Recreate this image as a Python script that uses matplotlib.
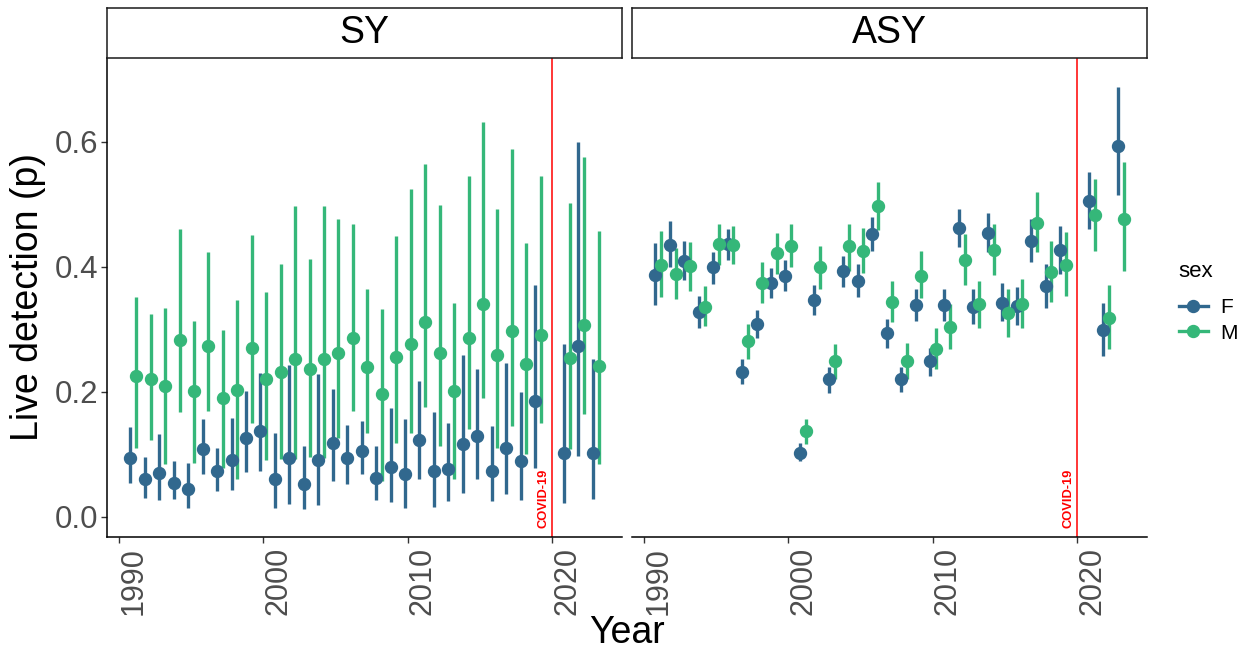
import numpy as np
import matplotlib
matplotlib.use('Agg')
import matplotlib.pyplot as plt
from matplotlib.lines import Line2D

plt.rcParams['font.family'] = ['Liberation Sans', 'DejaVu Sans']

years = [1991, 1992, 1993, 1994, 1995, 1996, 1997, 1998, 1999, 2000,
         2001, 2002, 2003, 2004, 2005, 2006, 2007, 2008, 2009, 2010,
         2011, 2012, 2013, 2014, 2015, 2016, 2017, 2018, 2019,
         2021, 2022, 2023]

# SY - females
sy_f = [0.094, 0.060, 0.071, 0.055, 0.044, 0.108, 0.073, 0.091, 0.127, 0.138,
        0.061, 0.094, 0.053, 0.091, 0.118, 0.094, 0.106, 0.063, 0.080, 0.069,
        0.123, 0.073, 0.076, 0.116, 0.129, 0.073, 0.111, 0.090, 0.186,
        0.102, 0.274, 0.103]
sy_f_lo = [0.054, 0.031, 0.027, 0.028, 0.014, 0.069, 0.041, 0.043, 0.072, 0.073,
           0.014, 0.020, 0.012, 0.019, 0.058, 0.053, 0.068, 0.027, 0.024, 0.015,
           0.060, 0.016, 0.026, 0.039, 0.060, 0.026, 0.037, 0.027, 0.078,
           0.022, 0.097, 0.028]
sy_f_hi = [0.144, 0.096, 0.133, 0.090, 0.086, 0.157, 0.111, 0.158, 0.202, 0.230,
           0.135, 0.243, 0.113, 0.229, 0.204, 0.147, 0.154, 0.114, 0.174, 0.157,
           0.217, 0.168, 0.151, 0.259, 0.237, 0.145, 0.246, 0.200, 0.371,
           0.277, 0.599, 0.253]

# SY - males
sy_m = [0.225, 0.221, 0.209, 0.283, 0.201, 0.273, 0.191, 0.203, 0.271, 0.220,
        0.232, 0.253, 0.237, 0.253, 0.263, 0.287, 0.240, 0.197, 0.256, 0.277,
        0.312, 0.263, 0.201, 0.287, 0.340, 0.259, 0.297, 0.244, 0.291,
        0.254, 0.307, 0.242]
sy_m_lo = [0.110, 0.123, 0.085, 0.168, 0.087, 0.169, 0.078, 0.061, 0.150, 0.091,
           0.093, 0.093, 0.096, 0.095, 0.127, 0.170, 0.135, 0.058, 0.119, 0.134,
           0.176, 0.113, 0.060, 0.141, 0.191, 0.110, 0.145, 0.101, 0.150,
           0.109, 0.165, 0.085]
sy_m_hi = [0.352, 0.325, 0.335, 0.461, 0.314, 0.423, 0.299, 0.347, 0.451, 0.360,
           0.405, 0.498, 0.413, 0.497, 0.476, 0.468, 0.364, 0.333, 0.450, 0.524,
           0.565, 0.499, 0.342, 0.546, 0.632, 0.493, 0.588, 0.438, 0.546,
           0.502, 0.576, 0.458]

# ASY - females
asy_f = [0.387, 0.435, 0.410, 0.328, 0.399, 0.436, 0.232, 0.308, 0.374, 0.386,
         0.103, 0.347, 0.220, 0.394, 0.378, 0.453, 0.295, 0.220, 0.339, 0.249,
         0.339, 0.462, 0.336, 0.454, 0.343, 0.338, 0.441, 0.370, 0.427,
         0.506, 0.299, 0.593]
asy_f_lo = [0.339, 0.400, 0.379, 0.303, 0.373, 0.411, 0.212, 0.287, 0.350, 0.361,
            0.090, 0.323, 0.199, 0.367, 0.352, 0.425, 0.270, 0.200, 0.313, 0.225,
            0.313, 0.432, 0.308, 0.424, 0.313, 0.307, 0.407, 0.335, 0.389,
            0.461, 0.257, 0.515]
asy_f_hi = [0.438, 0.473, 0.441, 0.354, 0.423, 0.461, 0.252, 0.331, 0.398, 0.411,
            0.118, 0.371, 0.240, 0.418, 0.404, 0.480, 0.317, 0.240, 0.364, 0.271,
            0.364, 0.492, 0.364, 0.486, 0.374, 0.368, 0.477, 0.405, 0.466,
            0.552, 0.343, 0.687]

# ASY - males
asy_m = [0.403, 0.389, 0.401, 0.336, 0.436, 0.435, 0.281, 0.374, 0.422, 0.434,
         0.137, 0.399, 0.250, 0.433, 0.426, 0.497, 0.344, 0.249, 0.386, 0.268,
         0.304, 0.411, 0.340, 0.427, 0.327, 0.340, 0.470, 0.391, 0.403,
         0.483, 0.318, 0.476]
asy_m_lo = [0.352, 0.348, 0.361, 0.305, 0.403, 0.404, 0.253, 0.342, 0.389, 0.400,
            0.117, 0.364, 0.221, 0.394, 0.390, 0.459, 0.312, 0.221, 0.350, 0.236,
            0.269, 0.371, 0.303, 0.387, 0.288, 0.302, 0.423, 0.344, 0.354,
            0.426, 0.268, 0.394]
asy_m_hi = [0.457, 0.430, 0.440, 0.370, 0.469, 0.466, 0.308, 0.407, 0.454, 0.468,
            0.157, 0.433, 0.277, 0.469, 0.462, 0.536, 0.378, 0.279, 0.426, 0.303,
            0.340, 0.453, 0.378, 0.468, 0.364, 0.380, 0.519, 0.442, 0.455,
            0.541, 0.371, 0.568]

panels = ['SY', 'ASY']
col_f = '#31688E'
col_m = '#35B779'
dodge = 0.2
covid_year = 2020

data = {
    'SY': [(sy_f, sy_f_lo, sy_f_hi, col_f, -dodge), (sy_m, sy_m_lo, sy_m_hi, col_m, dodge)],
    'ASY': [(asy_f, asy_f_lo, asy_f_hi, col_f, -dodge), (asy_m, asy_m_lo, asy_m_hi, col_m, dodge)],
}

W, H = 1244, 652
fig = plt.figure(figsize=(W / 100, H / 100), dpi=100)

panel_w = 515 / W
bottom = (H - 537) / H
height = (537 - 58) / H
strip_h = 50 / H
lefts = [107 / W, 632 / W]

yr = np.array(years, dtype=float)
x_lo = yr.min() - dodge
x_hi = yr.max() + dodge
pad = 0.05 * (x_hi - x_lo)

for i, name in enumerate(panels):
    ax = fig.add_axes([lefts[i], bottom, panel_w, height])
    for est, lo, hi, c, off in data[name]:
        ax.vlines(yr + off, lo, hi, color=c, lw=2.4, zorder=2)
        ax.plot(yr + off, est, 'o', color=c, ms=8.6, mec=c, zorder=3)
    ax.axvline(covid_year, color='#FF0000', lw=1.1, zorder=1)
    ax.text(covid_year - 0.6, -0.017, 'COVID-19', rotation=90, color='#FF0000',
            fontsize=9.3, fontweight='bold', ha='center', va='bottom')

    ax.set_xlim(x_lo - pad, x_hi + pad)
    ax.set_ylim(-0.032, 0.734)
    ax.set_xticks([1990, 2000, 2010, 2020])
    ax.set_yticks([0.0, 0.2, 0.4, 0.6])
    ax.set_yticklabels(['0.0', '0.2', '0.4', '0.6'])
    ax.tick_params(axis='x', labelrotation=90, labelsize=22, colors='#333333',
                   labelcolor='#4D4D4D', length=4, width=1, pad=3)
    ax.tick_params(axis='y', labelsize=22.5, colors='#333333',
                   labelcolor='#4D4D4D', length=4, width=1, pad=2)
    for lab in ax.get_xticklabels():
        lab.set_ha('left')
    for s in ['top', 'right']:
        ax.spines[s].set_visible(False)
    ax.spines['bottom'].set_linewidth(1.1)
    ax.spines['left'].set_linewidth(1.1)
    if i == 1:
        ax.spines['left'].set_visible(False)
        ax.tick_params(axis='y', left=False, labelleft=False)

    # facet strip
    sx = fig.add_axes([lefts[i], bottom + height, panel_w, strip_h])
    sx.set_xticks([])
    sx.set_yticks([])
    for s in sx.spines.values():
        s.set_linewidth(1.1)
        s.set_color('#1A1A1A')
    sx.text(0.5, 0.5, name, ha='center', va='center', fontsize=27, transform=sx.transAxes)

fig.text(28 / W, 1 - 297 / H, 'Live detection (p)', rotation=90, ha='center', va='center', fontsize=27)
fig.text(627 / W, 1 - 633 / H, 'Year', ha='center', va='center', fontsize=27)

handles = [Line2D([0], [0], color=col_f, lw=2.4, marker='o', ms=8.6),
           Line2D([0], [0], color=col_m, lw=2.4, marker='o', ms=8.6)]
leg = fig.legend(handles, ['F', 'M'], title='sex', loc='upper left',
                 bbox_to_anchor=(1164 / W, 1 - 246 / H), frameon=False, fontsize=15,
                 title_fontsize=16, alignment='left', handlelength=1.4, labelspacing=0.3,
                 handletextpad=0.6, borderpad=0.2)
leg._legend_box.sep = 12

fig.savefig('out.png', dpi=100)
